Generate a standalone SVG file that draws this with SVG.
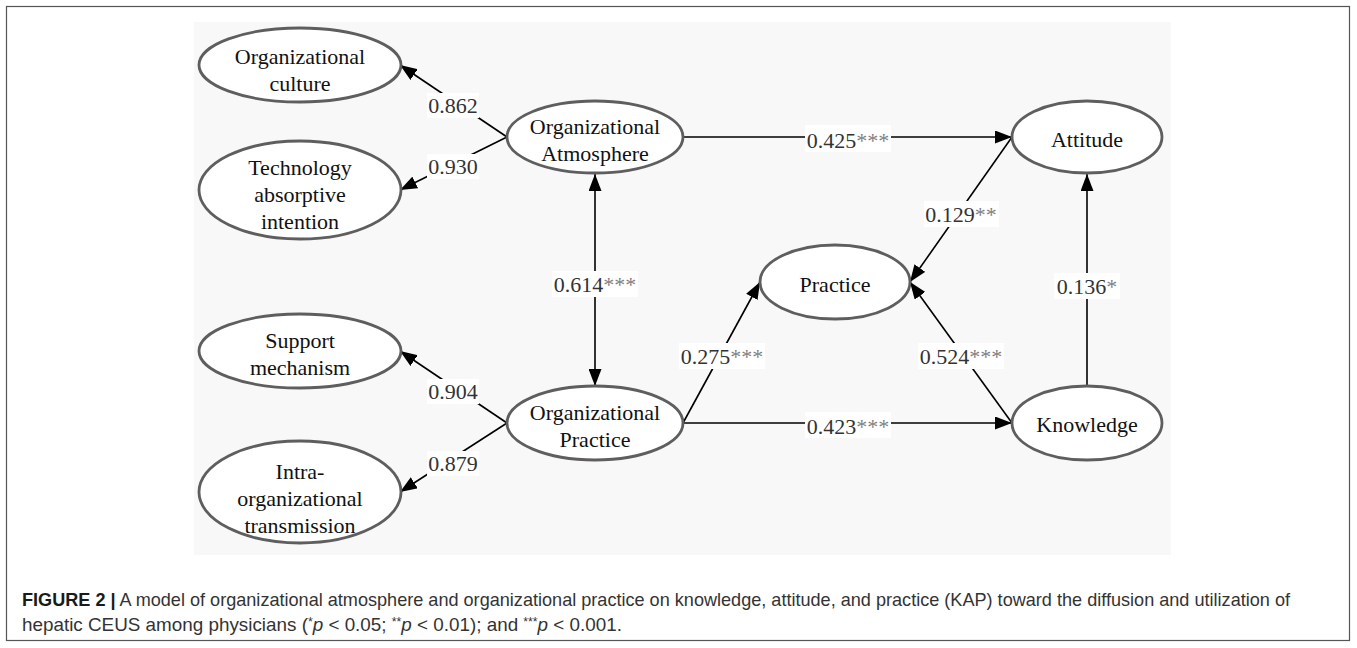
<svg xmlns="http://www.w3.org/2000/svg" width="1357" height="648" viewBox="0 0 1357 648">
<style>
.node ellipse{fill:#ffffff;stroke:#5e5e5e;stroke-width:2.8}
.node text{font-family:"Liberation Serif","Times New Roman",serif;font-size:22px;fill:#111111;text-anchor:middle}
.edge line{stroke:#000000;stroke-width:1.6}
.lbl rect{fill:#ffffff;stroke:none}
.lbl text{font-family:"Liberation Serif","Times New Roman",serif;font-size:22px;fill:#333333;text-anchor:middle}
.ast{fill:#808080}
.cap{font-family:"Liberation Sans",Arial,sans-serif;font-size:18.5px;fill:#333333}
</style>
<defs>
<marker id="arr" markerUnits="userSpaceOnUse" markerWidth="18" markerHeight="13" refX="17" refY="6.5" orient="auto-start-reverse">
<path d="M0,0 L17,6.5 L0,13 z" fill="#000000"/>
</marker>
</defs>
<rect x="0" y="0" width="1357" height="648" fill="#ffffff"/>
<rect x="6.5" y="6.5" width="1343" height="634" fill="#ffffff" stroke="#555555" stroke-width="1.2"/>
<rect x="194" y="22" width="977" height="533" fill="#f8f8f8"/>

<g id="connectors" class="edge">
<line x1="507" y1="137" x2="400" y2="65" marker-end="url(#arr)"/>
<line x1="507" y1="137" x2="400" y2="190" marker-end="url(#arr)"/>
<line x1="507" y1="423" x2="400" y2="351" marker-end="url(#arr)"/>
<line x1="507" y1="423" x2="400" y2="492" marker-end="url(#arr)"/>
<line x1="595" y1="174" x2="595" y2="386" marker-start="url(#arr)" marker-end="url(#arr)"/>
<line x1="683" y1="137" x2="1012" y2="137" marker-end="url(#arr)"/>
<line x1="1012" y1="137" x2="910" y2="282" marker-end="url(#arr)"/>
<line x1="1087" y1="386" x2="1087" y2="174" marker-end="url(#arr)"/>
<line x1="683" y1="423" x2="760" y2="282" marker-end="url(#arr)"/>
<line x1="1012" y1="423" x2="910" y2="282" marker-end="url(#arr)"/>
<line x1="683" y1="423" x2="1012" y2="423" marker-end="url(#arr)"/>
<g class="lbl">
<rect x="427" y="93" width="52" height="25"/><text x="453" y="113">0.862</text>
<rect x="427" y="154" width="52" height="25"/><text x="453" y="174">0.930</text>
<rect x="427" y="379" width="52" height="25"/><text x="453" y="399">0.904</text>
<rect x="427" y="451" width="52" height="25"/><text x="453" y="471">0.879</text>
<rect x="552" y="271" width="86" height="26"/><text x="595" y="292">0.614<tspan class="ast">***</tspan></text>
<rect x="805" y="125" width="86" height="27"/><text x="848" y="148">0.425<tspan class="ast">***</tspan></text>
<rect x="924" y="201" width="75" height="26"/><text x="961" y="222">0.129<tspan class="ast">**</tspan></text>
<rect x="1054" y="273" width="66" height="26"/><text x="1087" y="294">0.136<tspan class="ast">*</tspan></text>
<rect x="679" y="343" width="86" height="26"/><text x="722" y="364">0.275<tspan class="ast">***</tspan></text>
<rect x="918" y="343" width="86" height="26"/><text x="961" y="364">0.524<tspan class="ast">***</tspan></text>
<rect x="805" y="412" width="86" height="26"/><text x="848" y="434">0.423<tspan class="ast">***</tspan></text>
</g>
</g>

<g id="node-org-culture" class="node">
<ellipse cx="300" cy="65" rx="101" ry="37"/>
<text x="300" y="64">Organizational</text><text x="300" y="91">culture</text>
</g>
<g id="node-tech" class="node">
<ellipse cx="300" cy="190" rx="101" ry="49"/>
<text x="300" y="175">Technology</text><text x="300" y="202">absorptive</text><text x="300" y="229">intention</text>
</g>
<g id="node-support" class="node">
<ellipse cx="300" cy="351" rx="101" ry="37"/>
<text x="300" y="348">Support</text><text x="300" y="375">mechanism</text>
</g>
<g id="node-intra" class="node">
<ellipse cx="300" cy="492" rx="101" ry="51"/>
<text x="300" y="479">Intra-</text><text x="300" y="506">organizational</text><text x="300" y="533">transmission</text>
</g>
<g id="node-org-atmosphere" class="node">
<ellipse cx="595" cy="137" rx="88" ry="36"/>
<text x="595" y="134">Organizational</text><text x="595" y="161">Atmosphere</text>
</g>
<g id="node-org-practice" class="node">
<ellipse cx="595" cy="423" rx="88" ry="37"/>
<text x="595" y="420">Organizational</text><text x="595" y="447">Practice</text>
</g>
<g id="node-attitude" class="node">
<ellipse cx="1087" cy="137" rx="75" ry="36"/>
<text x="1087" y="147">Attitude</text>
</g>
<g id="node-practice" class="node">
<ellipse cx="835" cy="282" rx="75" ry="37"/>
<text x="835" y="292">Practice</text>
</g>
<g id="node-knowledge" class="node">
<ellipse cx="1087" cy="423" rx="75" ry="37"/>
<text x="1087" y="432">Knowledge</text>
</g>

<g id="caption">
<text class="cap" x="22" y="606" textLength="1268" lengthAdjust="spacingAndGlyphs"><tspan font-weight="bold" fill="#1a1a1a">FIGURE 2 |</tspan> A model of organizational atmosphere and organizational practice on knowledge, attitude, and practice (KAP) toward the diffusion and utilization of</text>
<text class="cap" x="22" y="631" textLength="600" lengthAdjust="spacingAndGlyphs">hepatic CEUS among physicians (<tspan font-size="12" dy="-5">*</tspan><tspan dy="5" font-style="italic">p</tspan> &lt; 0.05; <tspan font-size="12" dy="-5">**</tspan><tspan dy="5" font-style="italic">p</tspan> &lt; 0.01); and <tspan font-size="12" dy="-5">***</tspan><tspan dy="5" font-style="italic">p</tspan> &lt; 0.001.</text>
</g>
</svg>
